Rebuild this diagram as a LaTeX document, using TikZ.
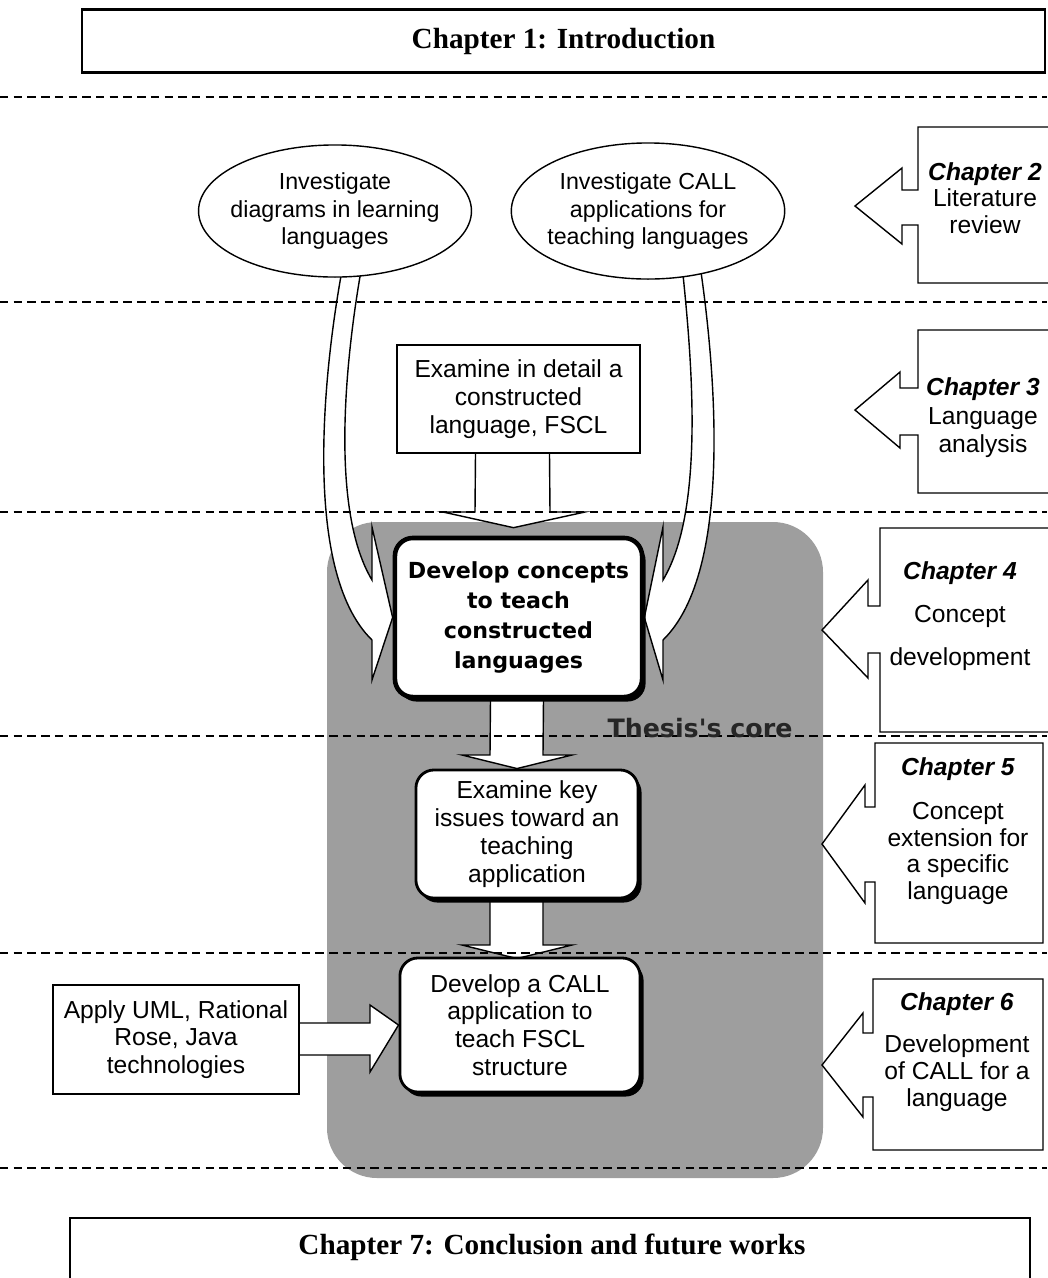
\documentclass[tikz,border=0pt]{standalone}
\usepackage{fontspec}
\setmainfont{Liberation Sans}
\newfontfamily\titlefont{Liberation Serif}
\newfontfamily\corefont{DejaVu Sans}
\usetikzlibrary{shapes.geometric, positioning, shadows, calc, backgrounds}

\begin{document}
\begin{tikzpicture}[
    x=0.01cm, y=-0.01cm,
    title/.style={font=\titlefont\bfseries\fontsize{8.3}{10}\selectfont},
    idea/.style={ellipse, draw, thin, fill=white, font=\fontsize{6.6}{7.9}\selectfont, align=center, inner xsep=-0.08cm, inner ysep=0pt},
    plain/.style={rectangle, draw, thin, fill=white, font=\fontsize{7}{7.9}\selectfont, align=center, inner sep=0pt},
    task/.style={rectangle, rounded corners=0.18cm, draw, thick, fill=white, font=\fontsize{7}{7.9}\selectfont, align=center, inner sep=0pt, drop shadow={shadow xshift=0.035cm, shadow yshift=-0.045cm, opacity=1, fill=black}},
    chap/.style={font=\fontsize{7}{7.6}\selectfont, align=center},
    callout/.style={draw, thin, fill=white},
    blockarrow/.style={draw, thin, fill=white},
    sep/.style={dash pattern=on 2.4pt off 1.5pt, thin}
]
\useasboundingbox (0,0) rectangle (1047,1278);

\node[title, draw, line width=0.6pt, minimum width=9.63cm, minimum height=0.63cm] (intro) at (563.5,41) {Chapter 1: Introduction};

\node[idea, minimum height=1.32cm] (diag) at (335,211) {Investigate\\diagrams in learning\\languages};
\node[idea, minimum height=1.36cm, inner xsep=-0.04cm] (call) at (648,211) {Investigate CALL\\applications for\\teaching languages};

\node[plain, minimum width=2.43cm, minimum height=1.08cm] (detail) at (518.5,399) {Examine in detail a\\constructed\\language, FSCL};

\node[task, line width=1.3pt, minimum width=2.47cm, minimum height=1.59cm, font=\corefont\bfseries\fontsize{6.3}{8.6}\selectfont] (concepts) at (518.5,617.5) {Develop concepts\\to teach\\constructed\\languages};
\node[task, minimum width=2.22cm, minimum height=1.28cm] (issues) at (527,834) {Examine key\\issues toward an\\teaching\\application};
\node[task, minimum width=2.4cm, minimum height=1.34cm] (develop) at (520,1025) {Develop a CALL\\application to\\teach FSCL\\structure};
\node[plain, minimum width=2.46cm, minimum height=1.09cm] (apply) at (176,1039.5) {Apply UML, Rational\\Rose, Java\\technologies};

\node[font=\corefont\bfseries\fontsize{7.2}{8}\selectfont, text=black!85] (core) at (700,728) {Thesis's core};

\node[chap] (ch2) at (985,198) {\textbf{\textit{Chapter 2}}\\Literature\\review};
\node[chap] (ch3) at (983,418) {\textbf{\textit{Chapter 3}}\\[0.5pt]Language\\[0.5pt]analysis};
\node[chap] (ch4) at (960,616) {\textbf{\textit{Chapter 4}}\\[4.6pt]Concept\\[4.6pt]development};
\node[chap] (ch5) at (958,831) {\textbf{\textit{Chapter 5}}\\[5pt]Concept\\extension for\\a specific\\language};
\node[chap] (ch6) at (957,1052) {\textbf{\textit{Chapter 6}}\\[4.4pt]Development\\of CALL for a\\language};

\node[title] (concl) at (552,1247) {Chapter 7: Conclusion and future works};

\begin{scope}[on background layer]
\draw[line width=0.6pt] (70,1300) |- (1030,1218) -- (1030,1300);

\fill[black!38, rounded corners=0.5cm] (327,522) rectangle (823,1178);

\draw[blockarrow] (343,265) .. controls (325,360) and (300,570) .. (372,640) -- (372,680) -- (concepts.west) -- (372,527) -- (372,580) .. controls (330,510) and (345,360) .. (362,265) -- cycle;
\draw[blockarrow] (700,265) .. controls (714,360) and (735,570) .. (663,640) -- (663,680) -- (concepts.east) -- (663,527) -- (663,580) .. controls (705,510) and (692,360) .. (682,265) -- cycle;

\draw[blockarrow] ($(detail.south)+(-43,0)$) -- (475,512) -- (443,512) -- ($(concepts.north)+(-5,-8)$) -- (585,512) -- (550,512) -- ($(detail.south)+(31,0)$);
\draw[blockarrow] ($(concepts.south)+(-28,0)$) -- (490,755) -- (462,755) -- ($(issues.north)+(-10,0)$) -- (572,755) -- (543,755) -- ($(concepts.south)+(25,0)$);
\draw[blockarrow] ($(issues.south)+(-37,0)$) -- (490,945) -- (462,945) -- ($(develop.north)+(-3,2)$) -- (572,945) -- (543,945) -- ($(issues.south)+(16,0)$);
\draw[blockarrow] (apply.east |- 0,1023) -- (370,1023) -- (370,1005) -- (develop.west) -- (370,1072) -- (370,1055) -- (apply.east |- 0,1055);

\draw[callout] (918,190) -- (902,190) -- (902,168) -- (855,206) -- (902,244) -- (902,225) -- (918,225) |- (1060,283) -- (1060,127) -| cycle;
\draw[callout] (918,388) -- (900,388) -- (900,372) -- (855,410) -- (900,448) -- (900,435) -- (918,435) |- (1060,493) -- (1060,330) -| cycle;
\draw[callout] (880,606) -- (868,606) -- (868,580) -- (822,630) -- (868,678) -- (868,653) -- (880,653) |- (1060,732) -- (1060,528) -| cycle;
\draw[callout] (875,807) -- (865,807) -- (865,785) -- (822,844) -- (865,903) -- (865,882) -- (875,882) |- (1043,943) -- (1043,743) -| cycle;
\draw[callout] (873,1033) -- (863,1033) -- (863,1013) -- (822,1065) -- (863,1117) -- (863,1097) -- (873,1097) |- (1043,1150) -- (1043,979) -| cycle;

\foreach \y in {97,302,512,736,953,1168}
    \draw[sep] (0,\y) -- (1047,\y);
\end{scope}

\end{tikzpicture}
\end{document}
